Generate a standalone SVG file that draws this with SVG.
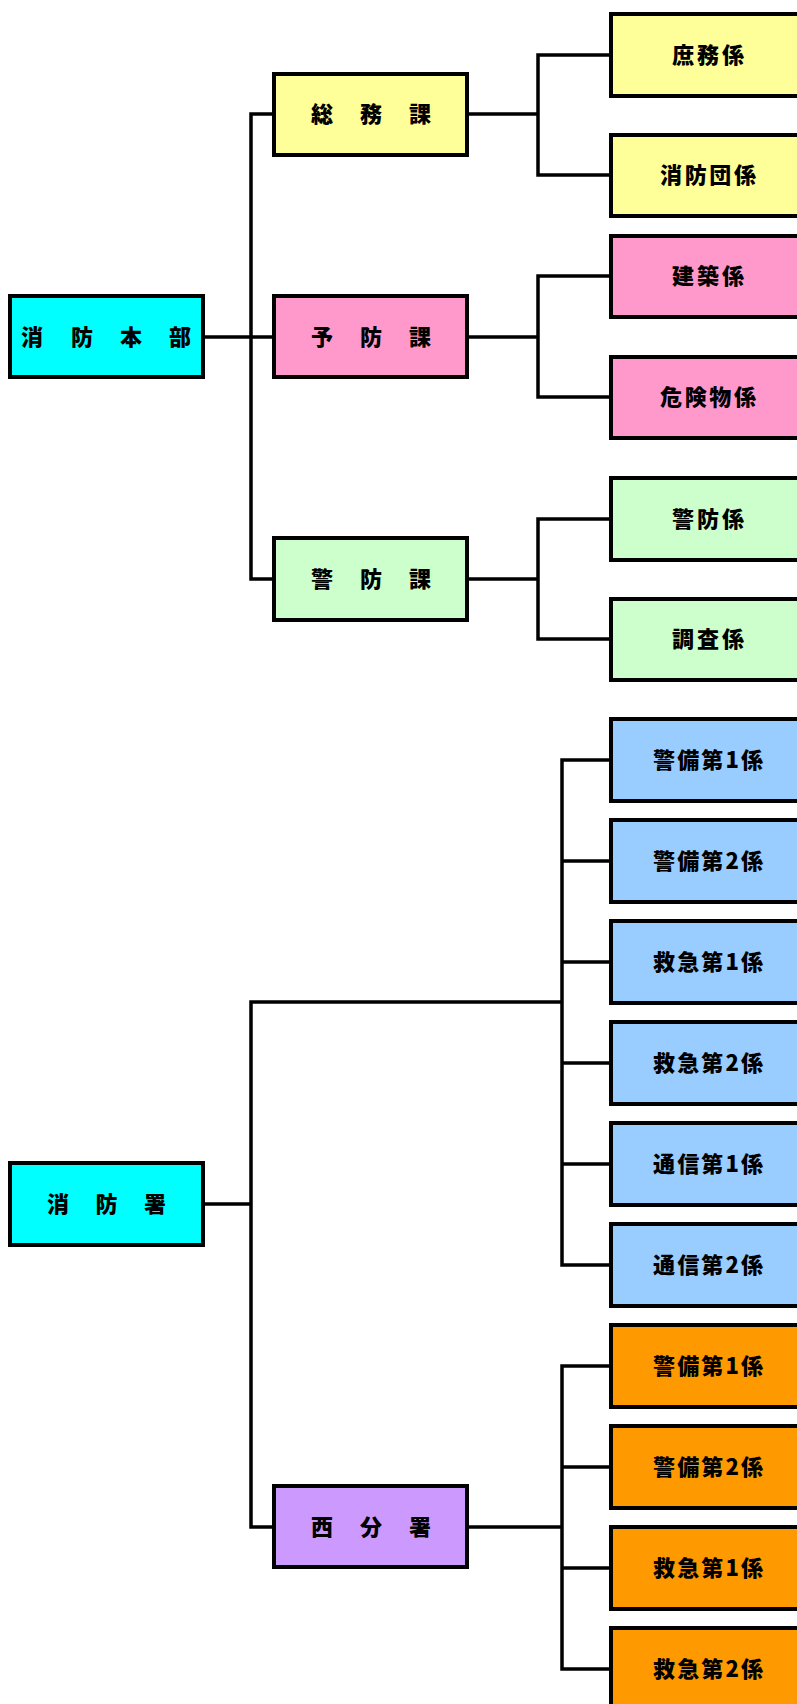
<svg xmlns="http://www.w3.org/2000/svg" width="797" height="1704" viewBox="0 0 797 1704">
<style>
.box{stroke:#000;stroke-width:4}
.t{font-family:"Noto Sans CJK JP","Noto Sans CJK SC",sans-serif;font-weight:900;font-size:22px;fill:#000;text-anchor:middle}
.c{fill:none;stroke:#000;stroke-width:3.5;stroke-linejoin:miter}
.cyan{fill:#00FFFF}.yel{fill:#FFFF99}.pink{fill:#FF99CC}.grn{fill:#CCFFCC}.blue{fill:#99CCFF}.pur{fill:#CC99FF}.org{fill:#FF9900}
</style>
<rect width="797" height="1704" fill="#fff"/>
<g id="connectors">
<path class="c" d="M203 337H274M274 114H251V579H274"/>
<path class="c" d="M467 114H538M611 55H538V175H611"/>
<path class="c" d="M467 337H538M611 276H538V397H611"/>
<path class="c" d="M467 579H538M611 519H538V639H611"/>
<path class="c" d="M203 1204H251M562 1002H251V1527H274"/>
<path class="c" d="M611 760H562V1265H611M562 861H611M562 962H611M562 1063H611M562 1164H611"/>
<path class="c" d="M467 1527H562M611 1366H562V1669H611M562 1467H611M562 1568H611"/>
</g>
<g id="n-honbu"><rect class="box cyan" x="10" y="296" width="193" height="81"/><text class="t" x="32 82 131 180" y="345">消防本部</text></g>
<g id="n-shobosho"><rect class="box cyan" x="10" y="1163" width="193" height="82"/><text class="t" x="58 106.5 155" y="1212">消防署</text></g>
<g id="n-somu"><rect class="box yel" x="274" y="74" width="193" height="81"/><text class="t" x="322 371 420" y="122">総務課</text></g>
<g id="n-yobo"><rect class="box pink" x="274" y="296" width="193" height="81"/><text class="t" x="322 371 420" y="345">予防課</text></g>
<g id="n-keibo"><rect class="box grn" x="274" y="538" width="193" height="82"/><text class="t" x="322 371 420" y="587">警防課</text></g>
<g id="n-nishi"><rect class="box pur" x="274" y="1486" width="193" height="81"/><text class="t" x="322 371 420" y="1535">西分署</text></g>
<g id="n-shomu"><rect class="box yel" x="611" y="14" width="194" height="82"/><text class="t" x="708" y="63" textLength="72" lengthAdjust="spacing">庶務係</text></g>
<g id="n-shobodan"><rect class="box yel" x="611" y="135" width="194" height="81"/><text class="t" x="708" y="183" textLength="96" lengthAdjust="spacing">消防団係</text></g>
<g id="n-kenchiku"><rect class="box pink" x="611" y="236" width="194" height="81"/><text class="t" x="708" y="284" textLength="72" lengthAdjust="spacing">建築係</text></g>
<g id="n-kikenbutsu"><rect class="box pink" x="611" y="357" width="194" height="81"/><text class="t" x="708" y="405" textLength="96" lengthAdjust="spacing">危険物係</text></g>
<g id="n-keibogakari"><rect class="box grn" x="611" y="478" width="194" height="82"/><text class="t" x="708" y="527" textLength="72" lengthAdjust="spacing">警防係</text></g>
<g id="n-chosa"><rect class="box grn" x="611" y="599" width="194" height="81"/><text class="t" x="708" y="647" textLength="72" lengthAdjust="spacing">調査係</text></g>
<g id="n-b1"><rect class="box blue" x="611" y="719" width="194" height="82"/><text class="t" x="708" y="768" textLength="110" lengthAdjust="spacing">警備第1係</text></g>
<g id="n-b2"><rect class="box blue" x="611" y="820" width="194" height="82"/><text class="t" x="708" y="869" textLength="110" lengthAdjust="spacing">警備第2係</text></g>
<g id="n-b3"><rect class="box blue" x="611" y="921" width="194" height="82"/><text class="t" x="708" y="970" textLength="110" lengthAdjust="spacing">救急第1係</text></g>
<g id="n-b4"><rect class="box blue" x="611" y="1022" width="194" height="82"/><text class="t" x="708" y="1071" textLength="110" lengthAdjust="spacing">救急第2係</text></g>
<g id="n-b5"><rect class="box blue" x="611" y="1123" width="194" height="82"/><text class="t" x="708" y="1172" textLength="110" lengthAdjust="spacing">通信第1係</text></g>
<g id="n-b6"><rect class="box blue" x="611" y="1224" width="194" height="82"/><text class="t" x="708" y="1273" textLength="110" lengthAdjust="spacing">通信第2係</text></g>
<g id="n-o1"><rect class="box org" x="611" y="1325" width="194" height="82"/><text class="t" x="708" y="1374" textLength="110" lengthAdjust="spacing">警備第1係</text></g>
<g id="n-o2"><rect class="box org" x="611" y="1426" width="194" height="82"/><text class="t" x="708" y="1475" textLength="110" lengthAdjust="spacing">警備第2係</text></g>
<g id="n-o3"><rect class="box org" x="611" y="1527" width="194" height="82"/><text class="t" x="708" y="1576" textLength="110" lengthAdjust="spacing">救急第1係</text></g>
<g id="n-o4"><rect class="box org" x="611" y="1628" width="194" height="82"/><text class="t" x="708" y="1677" textLength="110" lengthAdjust="spacing">救急第2係</text></g>
</svg>
